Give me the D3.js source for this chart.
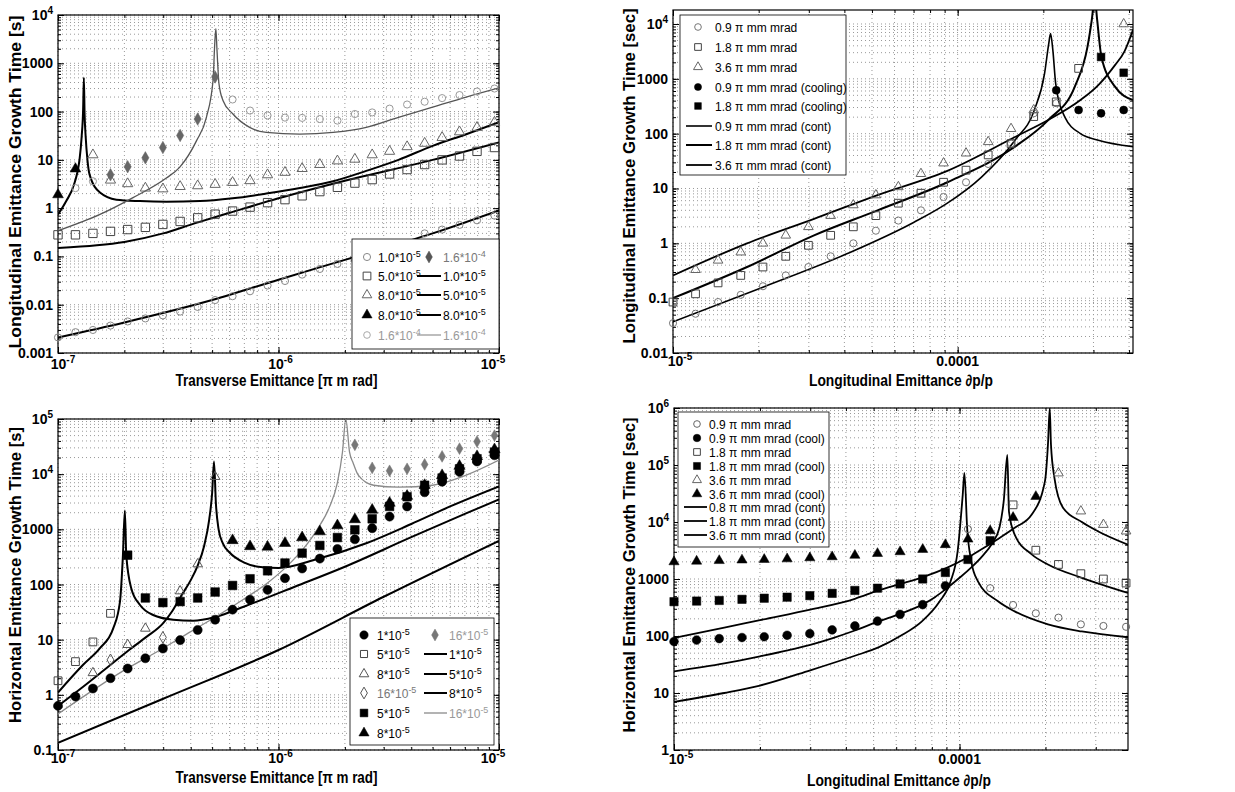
<!DOCTYPE html>
<html>
<head>
<meta charset="utf-8">
<style>
  body { margin: 0; background: #fff; }
  svg { display: block; font-family: "Liberation Sans", Arial, sans-serif; }
</style>
</head>
<body>
<svg></svg>
<script src="https://d3js.org/d3.v7.min.js"></script>
<script>
const _ = null;

// marker positions (emittance values)
const xTrans = [1.0e-7, 1.2e-7, 1.44e-7, 1.73e-7, 2.07e-7, 2.49e-7, 2.99e-7, 3.58e-7, 4.30e-7, 5.16e-7, 6.19e-7, 7.43e-7, 8.92e-7,
                1.07e-6, 1.28e-6, 1.54e-6, 1.85e-6, 2.22e-6, 2.66e-6, 3.19e-6, 3.83e-6, 4.60e-6, 5.52e-6, 6.62e-6, 7.95e-6, 9.54e-6];
const xLong = [1.0e-5, 1.2e-5, 1.44e-5, 1.73e-5, 2.07e-5, 2.49e-5, 2.99e-5, 3.58e-5, 4.30e-5, 5.16e-5, 6.19e-5, 7.43e-5, 8.92e-5,
               1.07e-4, 1.28e-4, 1.54e-4, 1.85e-4, 2.22e-4, 2.66e-4, 3.19e-4, 3.83e-4];

// ---- panel 1 (top left): longitudinal growth time vs transverse emittance
const p1Open10  = [0.0021,0.0027,0.003,0.0037,0.0045,0.0052,0.006,0.0072,0.009,0.0125,0.015,0.019,0.025,0.031,0.042,0.055,0.07,0.085,0.11,0.14,0.19,0.3,0.36,0.45,0.56,0.7];
const p1Open50  = [0.28,0.28,0.30,0.33,0.36,0.40,0.46,0.53,0.63,0.75,0.87,1.05,1.3,1.5,1.8,2.2,2.7,3.3,3.9,5.1,6.3,8,10,12,15,18];
const p1Open80  = [_,_,12.7,3.8,3.2,2.6,2.5,2.8,2.9,3.1,3.4,3.7,4.9,5.5,6.6,8,9.5,10.3,12.7,15,18.7,22,29,38,47,60];
const p1Fill80  = [1.9,6.5,_,_,_,_,_,_,_,_,_,_,_,_,_,_,_,_,_,_,_,_,_,_,_,_];
const p1Dia160  = [_,_,_,4.9,7.2,11,18,32,70,520,_,_,_,_,_,_,_,_,_,_,_,_,_,_,_,_];
const p1Light160 = [_,2.6,3.6,_,_,_,_,_,_,_,178,105,83,75,74,70,65,89,96,115,140,160,190,220,260,300];
const p1Line10 = [[1e-7,0.0021],[2e-7,0.0043],[5e-7,0.0125],[1e-6,0.033],[2e-6,0.085],[5e-6,0.3],[1e-5,0.9]];
const p1Line50 = [[1e-7,0.15],[1.5e-7,0.17],[2e-7,0.2],[3e-7,0.3],[4.2e-7,0.49],[6e-7,0.8],[1e-6,1.6],[2e-6,3.7],[5e-6,10],[1e-5,23]];
const p1Line80 = [[1e-7,0.74],[1.09e-7,1.4],[1.19e-7,3.4],[1.25e-7,9.5],[1.28e-7,30],[1.3e-7,110],[1.31e-7,500],[1.32e-7,90],
                  [1.335e-7,30],[1.36e-7,10],[1.39e-7,5],[1.55e-7,2.1],[1.84e-7,1.5],[2.35e-7,1.4],[3.1e-7,1.36],[4.4e-7,1.4],
                  [6.2e-7,1.6],[8.8e-7,2.0],[1.25e-6,2.6],[1.77e-6,3.6],[2.5e-6,5.9],[3.5e-6,10],[5e-6,19.5],[7.1e-6,34],[1e-5,60]];
const p1Line160 = [[1e-7,0.34],[1.55e-7,0.74],[2.19e-7,1.65],[3.1e-7,4.2],[3.56e-7,7],[4.25e-7,25],[4.71e-7,76],[5.05e-7,450],
                   [5.14e-7,2600],[5.2e-7,5200],[5.26e-7,1900],[5.37e-7,380],[5.6e-7,170],[6.2e-7,90],[7.4e-7,47],[8.8e-7,37],
                   [1.25e-6,34],[1.77e-6,37],[2.5e-6,47],[3.5e-6,76],[5e-6,123],[7.1e-6,200],[1e-5,310]];

// ---- panel 2 (top right): longitudinal growth time vs dp/p
const p2Open09 = [0.035,0.052,0.085,0.115,0.165,0.26,0.37,0.58,1.0,1.7,2.6,4.0,7,13,28,66,235,360,_,_,_];
const p2Open18 = [0.085,0.12,0.19,0.26,0.37,0.58,0.92,1.4,2.0,3.2,5.4,8.2,13,21.6,41,66,205,380,1550,_,_];
const p2Open36 = [_,0.33,0.49,0.69,1.0,1.4,2.0,3.2,5.0,7.6,10.7,18.6,29,44,71,123,270,_,_,_,1.0e4];
const p2Fill09 = [_,_,_,_,_,_,_,_,_,_,_,_,_,_,_,_,_,620,270,235,270];
const p2Fill18 = [_,_,_,_,_,_,_,_,_,_,_,_,_,_,_,_,_,_,_,2500,1290];
const p2Line09 = [[1e-5,0.037],[2.08e-5,0.16],[4.1e-5,0.65],[7.0e-5,2.4],[9.2e-5,5.4],[1.21e-4,16],[1.59e-4,76],[1.86e-4,270],
                  [2.02e-4,1260],[2.09e-4,4450],[2.12e-4,6700],[2.16e-4,3300],[2.21e-4,820],[2.38e-4,200],[2.7e-4,100],[3.12e-4,76],[4.13e-4,58]];
const p2Line18 = [[1e-5,0.1],[1.82e-5,0.37],[3.13e-5,1.4],[5.23e-5,4],[9.2e-5,13],[1.59e-4,58],[2.08e-4,177],[2.58e-4,720],
                  [2.86e-4,3900],[2.96e-4,1.2e4],[3.03e-4,3e4],[3.09e-4,1.2e4],[3.2e-4,2500],[3.57e-4,720],[4.13e-4,410]];
const p2Line36 = [[1e-5,0.26],[1.82e-5,1.0],[3.13e-5,2.8],[5.23e-5,7.6],[9.2e-5,21],[1.59e-4,87],[2.08e-4,177],[2.7e-4,410],
                  [3.12e-4,770],[3.57e-4,1780],[3.86e-4,3200],[4.13e-4,7800]];

// ---- panel 3 (bottom left): horizontal growth time vs transverse emittance
const p3Fill10  = [0.63,0.93,1.3,2.0,3.0,4.6,6.9,9.8,15,23,35,53,80,130,195,295,440,660,1050,1700,2600,4700,7300,1.1e4,1.7e4,2.2e4];
const p3Open50  = [1.8,4.0,9.1,30,_,_,_,_,_,_,_,_,_,_,_,_,_,_,_,_,_,_,_,_,_,_];
const p3Open80  = [_,_,2.5,_,8.1,16,_,76,235,9000,_,_,_,_,_,_,_,_,_,_,_,_,_,_,_,_];
const p3Open160 = [_,_,_,4.3,_,_,11,_,_,_,_,_,_,_,_,_,_,_,_,_,_,_,_,_,_,_];
const p3Fill50  = [_,_,_,_,340,57,47,49,57,73,96,127,177,245,370,510,710,980,1550,2600,3900,6300,8500,1.25e4,1.9e4,2.5e4];
const p3Fill80  = [_,_,_,_,_,_,_,_,_,_,630,490,480,560,710,910,1170,1510,2240,3000,4000,6300,9500,1.4e4,2.1e4,2.8e4];
const p3Fill160 = [_,_,_,_,_,_,_,_,_,_,_,_,_,_,_,_,_,3.4e4,1.3e4,1.15e4,1.25e4,1.5e4,2.1e4,2.9e4,3.9e4,5e4];
const p3Line10 = [[1e-7,0.135],[3e-7,0.85],[1e-6,6.5],[3e-6,60],[1e-5,620]];
const p3Line50 = [[1e-7,1.1],[1.3e-7,3.5],[1.55e-7,7],[1.78e-7,16],[1.91e-7,49],[1.97e-7,340],[2.01e-7,2200],[2.04e-7,340],
                  [2.15e-7,85],[2.35e-7,43],[2.7e-7,28],[3.33e-7,23],[4.1e-7,22],[5.2e-7,26],[7e-7,40],[1.2e-6,93],
                  [2e-6,210],[4e-6,720],[7e-6,1900],[1e-5,3500]];
const p3Line80 = [[1e-7,0.63],[1.3e-7,1.4],[1.7e-7,3.3],[2.1e-7,6.5],[2.5e-7,11],[3e-7,20],[3.3e-7,33],[3.6e-7,60],[4e-7,120],
                  [4.3e-7,220],[4.6e-7,500],[4.85e-7,1500],[5.0e-7,4500],[5.1e-7,1.7e4],[5.2e-7,3000],[5.35e-7,1000],[5.6e-7,550],
                  [6e-7,380],[7e-7,250],[8.5e-7,205],[1e-6,200],[1.5e-6,290],[2.5e-6,560],[4e-6,1250],[6e-6,2600],[1e-5,6000]];
const p3Line160 = [[1e-7,0.45],[2e-7,2.8],[3e-7,7],[4e-7,14],[5.2e-7,26],[7e-7,55],[9e-7,110],[1.1e-6,220],[1.3e-6,450],
                   [1.5e-6,1000],[1.7e-6,2500],[1.85e-6,7000],[1.95e-6,2.5e4],[2.02e-6,1e5],[2.1e-6,2.5e4],[2.18e-6,1.6e4],
                   [2.3e-6,9600],[2.7e-6,6300],[3.5e-6,5800],[5e-6,6300],[7.1e-6,9600],[1e-5,1.8e4]];

// ---- panel 4 (bottom right): horizontal growth time vs dp/p
const p4Open09 = [_,_,_,_,_,_,_,_,_,_,_,_,_,7500,690,350,250,210,160,150,145];
const p4Fill09 = [80,85,90,94,97,103,110,128,150,183,240,355,760,_,_,_,_,_,_,_,_];
const p4Open18 = [_,_,_,_,_,_,_,_,_,_,_,_,_,_,_,2.0e4,3200,1800,1240,1000,850];
const p4Fill18 = [400,410,420,440,460,480,510,560,630,690,820,1000,1300,2200,4700,_,_,_,_,_,_];
const p4Open36 = [_,_,_,_,_,_,_,_,_,_,_,_,_,_,_,_,_,7.2e4,1.55e4,9000,6900];
const p4Fill36 = [2000,2050,2100,2150,2200,2250,2350,2450,2600,2800,3000,3300,4000,5000,7000,1.2e4,2.8e4,_,_,_,_];
const p4Line08 = [[1e-5,7],[1.5e-5,10],[2e-5,13.5],[3e-5,25],[4.3e-5,45],[5.2e-5,63],[6.2e-5,100],[7.4e-5,183],[8.5e-5,400],
                  [9.3e-5,900],[9.85e-5,3100],[1.026e-4,3e4],[1.04e-4,7.3e4],[1.063e-4,8000],[1.1e-4,2000],[1.16e-4,910],
                  [1.36e-4,410],[1.56e-4,270],[2.04e-4,160],[2.68e-4,120],[3.89e-4,95]];
const p4Line18 = [[1e-5,24],[1.5e-5,33],[2e-5,44],[2.5e-5,56],[3e-5,70],[3.6e-5,92],[4.3e-5,125],[5.2e-5,180],[6.2e-5,245],
                  [7.4e-5,355],[8.2e-5,480],[9e-5,680],[1e-4,1050],[1.1e-4,1600],[1.2e-4,2500],[1.3e-4,4200],[1.38e-4,8000],
                  [1.43e-4,2.5e4],[1.47e-4,1.5e5],[1.49e-4,1.5e4],[1.56e-4,6000],[1.79e-4,2700],[2.04e-4,1800],[2.68e-4,1050],[3.89e-4,570]];
const p4Line36 = [[1e-5,92],[1.5e-5,140],[2e-5,190],[3e-5,290],[4.3e-5,450],[5.2e-5,630],[6.2e-5,820],[7.4e-5,1070],[9.1e-5,1600],
                  [1.07e-4,2400],[1.19e-4,3300],[1.36e-4,5000],[1.56e-4,7900],[1.79e-4,1.35e4],[1.99e-4,5.1e4],[2.04e-4,2.3e5],
                  [2.07e-4,1e6],[2.09e-4,2.3e5],[2.15e-4,5.9e4],[2.3e-4,1.8e4],[2.68e-4,1e4],[3.05e-4,6900],[3.89e-4,4000]];

// tick labels
const transXTicks = [1e-7, 1e-6, 1e-5];
const transXLabels = ["10^-7", "10^-6", "10^-5"];
const longXTicks = [1e-5, 1e-4];
const longXLabels = ["10^-5", "0.0001"];
const p1YTicks = [1e-3, 1e-2, 0.1, 1, 10, 100, 1000, 1e4];
const p1YLabels = ["0.001", "0.01", "0.1", "1", "10", "100", "1000", "10^4"];
const p2YTicks = [1e-2, 0.1, 1, 10, 100, 1000, 1e4];
const p2YLabels = ["0.01", "0.1", "1", "10", "100", "1000", "10^4"];
const p3YTicks = [0.1, 1, 10, 100, 1000, 1e4, 1e5];
const p3YLabels = ["0.1", "1", "10", "100", "1000", "10^4", "10^5"];
const p4YTicks = [1, 10, 100, 1000, 1e4, 1e5, 1e6];
const p4YLabels = ["1", "10", "100", "1000", "10^4", "10^5", "10^6"];

const svg = d3.select('svg').attr('width', 1235).attr('height', 792);
const symMap = {circle: d3.symbolCircle, square: d3.symbolSquare, triangle: d3.symbolTriangle, diamond: d3.symbolDiamond};

// "10^-5" -> 10 with superscript
function rich(t, str, supSize, dy) {
  const parts = str.split('^');
  t.append('tspan').text(parts[0]);
  if (parts.length > 1) t.append('tspan').attr('dy', dy).attr('font-size', supSize).text(parts[1]);
}

function drawSymbol(g, cx, cy, m) {
  g.append('path')
    .attr('transform', `translate(${cx},${cy})`)
    .attr('d', d3.symbol().type(symMap[m.sym]).size(m.size))
    .attr('fill', m.fill ? m.color : 'none')
    .attr('stroke', m.color)
    .attr('stroke-width', m.fill ? 0.5 : 1);
}

function drawPanel(p) {
  const x = d3.scaleLog().domain(p.xDomain).range([p.left, p.right]);
  const y = d3.scaleLog().domain(p.yDomain).range([p.bottom, p.top]);
  const g = svg.append('g');
  const clipId = 'clip' + p.id;
  g.append('clipPath').attr('id', clipId).append('rect')
    .attr('x', p.left).attr('y', p.top).attr('width', p.right - p.left).attr('height', p.bottom - p.top);

  // dotted grid at every decade subdivision
  g.append('g').selectAll('line').data(x.ticks()).join('line')
    .attr('x1', d => x(d)).attr('x2', d => x(d)).attr('y1', p.top).attr('y2', p.bottom)
    .attr('stroke', '#999').attr('stroke-dasharray', '1,3');
  g.append('g').selectAll('line').data(y.ticks()).join('line')
    .attr('y1', d => y(d)).attr('y2', d => y(d)).attr('x1', p.left).attr('x2', p.right)
    .attr('stroke', '#999').attr('stroke-dasharray', '1,3');

  // inward ticks on all four sides
  const sides = [[d3.axisBottom, x, `translate(0,${p.bottom})`, p.xTicks],
                 [d3.axisTop, x, `translate(0,${p.top})`, p.xTicks],
                 [d3.axisLeft, y, `translate(${p.left},0)`, p.yTicks],
                 [d3.axisRight, y, `translate(${p.right},0)`, p.yTicks]];
  sides.forEach(([ax, sc, tr, major]) => {
    [[sc.ticks(), -3], [major, -6]].forEach(([vals, size]) => {
      g.append('g').attr('transform', tr)
        .call(ax(sc).tickValues(vals).tickSize(size).tickFormat(() => ''))
        .call(s => s.select('.domain').remove())
        .selectAll('line').attr('stroke', '#000');
    });
  });

  g.append('rect').attr('x', p.left).attr('y', p.top)
    .attr('width', p.right - p.left).attr('height', p.bottom - p.top)
    .attr('fill', 'none').attr('stroke', '#000').attr('stroke-width', 1.2);

  const lineGen = d3.line().x(d => x(d[0])).y(d => y(d[1])).curve(d3.curveMonotoneX);
  p.lines.forEach(l => {
    g.append('path').datum(l.data).attr('d', lineGen)
      .attr('fill', 'none').attr('stroke', l.color).attr('stroke-width', l.width)
      .attr('clip-path', `url(#${clipId})`);
  });

  p.markers.forEach(m => {
    p.xs.forEach((xv, i) => {
      if (m.values[i] != null) drawSymbol(g, x(xv), y(m.values[i]), m);
    });
  });

  // tick labels
  p.yTicks.forEach((v, i) => {
    const t = g.append('text').attr('x', p.left - 5).attr('y', y(v) + 5)
      .attr('text-anchor', 'end').attr('font-size', 14).attr('font-weight', 'bold');
    rich(t, p.yLabels[i], 10, -6);
  });
  p.xTicks.forEach((v, i) => {
    const t = g.append('text').attr('x', x(v) + p.xShift[i]).attr('y', p.xLabelY)
      .attr('text-anchor', 'middle').attr('font-size', 14).attr('font-weight', 'bold');
    rich(t, p.xLabels[i], 10, -6);
  });

  // axis titles
  g.append('text').attr('x', (p.left + p.right) / 2 - 2).attr('y', p.xTitleY)
    .attr('text-anchor', 'middle').attr('font-size', 16).attr('font-weight', 'bold')
    .attr('textLength', p.xTitleLen).attr('lengthAdjust', 'spacingAndGlyphs').text(p.xTitle);
  g.append('text').attr('transform', `translate(${p.yTitleX},${p.yTitleY}) rotate(-90)`)
    .attr('text-anchor', 'middle').attr('dominant-baseline', 'central')
    .attr('font-size', 17).attr('font-weight', 'bold')
    .attr('textLength', p.yTitleLen).attr('lengthAdjust', 'spacingAndGlyphs').text(p.yTitle);

  // legend
  const L = p.legend;
  g.append('rect').attr('x', L.box[0]).attr('y', L.box[1]).attr('width', L.box[2]).attr('height', L.box[3])
    .attr('fill', '#fff').attr('stroke', '#000').attr('stroke-width', 0.8);
  L.items.forEach(it => {
    const cy = L.rows[it.row], c = L.cols[it.col];
    if (it.line) g.append('line').attr('x1', c.l1).attr('x2', c.l2).attr('y1', cy).attr('y2', cy)
      .attr('stroke', it.color).attr('stroke-width', it.width);
    if (it.sym) drawSymbol(g, c.m, cy, it);
    const t = g.append('text').attr('x', c.t).attr('y', cy + 4.5)
      .attr('font-size', L.fs).attr('fill', it.textColor || '#000');
    rich(t, it.label, L.fs - 3, -5);
  });
}

const black = '#000', gray = '#8a8a8a', openC = '#444';

drawPanel({
  id: 1, left: 58, right: 499, top: 15, bottom: 353,
  xDomain: [1e-7, 1e-5], yDomain: [1e-3, 1e4], xs: xTrans,
  xTicks: transXTicks, xLabels: transXLabels, xShift: [5, 2, -6], xLabelY: 369,
  yTicks: p1YTicks, yLabels: p1YLabels,
  xTitle: 'Transverse Emittance [π m rad]', xTitleY: 386, xTitleLen: 202,
  yTitle: 'Longitudinal Emittance Growth Time [s]', yTitleX: 15, yTitleY: 182, yTitleLen: 333,
  lines: [
    {data: p1Line10, color: black, width: 2},
    {data: p1Line50, color: black, width: 2},
    {data: p1Line80, color: black, width: 2},
    {data: p1Line160, color: '#555', width: 1.3}
  ],
  markers: [
    {values: p1Open10, sym: 'circle', fill: false, color: '#888', size: 40},
    {values: p1Open50, sym: 'square', fill: false, color: openC, size: 70},
    {values: p1Open80, sym: 'triangle', fill: false, color: '#666', size: 45},
    {values: p1Fill80, sym: 'triangle', fill: true, color: black, size: 50},
    {values: p1Light160, sym: 'circle', fill: false, color: '#999', size: 40},
    {values: p1Dia160, sym: 'diamond', fill: true, color: '#666', size: 45}
  ],
  legend: {
    box: [352, 239, 147, 110], rows: [257, 276, 295, 315, 335], fs: 12,
    cols: [{m: 367, l1: 360, l2: 374, t: 378}, {m: 429, l1: 417, l2: 441, t: 443}],
    items: [
      {col: 0, row: 0, sym: 'circle', fill: false, color: '#888', size: 40, label: '1.0*10^-5'},
      {col: 0, row: 1, sym: 'square', fill: false, color: openC, size: 60, label: '5.0*10^-5'},
      {col: 0, row: 2, sym: 'triangle', fill: false, color: '#666', size: 40, label: '8.0*10^-5'},
      {col: 0, row: 3, sym: 'triangle', fill: true, color: black, size: 45, label: '8.0*10^-5'},
      {col: 0, row: 4, sym: 'circle', fill: false, color: '#aaa', size: 35, label: '1.6*10^-4', textColor: '#999'},
      {col: 1, row: 0, sym: 'diamond', fill: true, color: '#555', size: 40, label: '1.6*10^-4', textColor: '#777'},
      {col: 1, row: 1, line: true, color: black, width: 2, label: '1.0*10^-5'},
      {col: 1, row: 2, line: true, color: black, width: 2, label: '5.0*10^-5'},
      {col: 1, row: 3, line: true, color: black, width: 2, label: '8.0*10^-5'},
      {col: 1, row: 4, line: true, color: '#999', width: 1.3, label: '1.6*10^-4', textColor: '#999'}
    ]
  }
});

drawPanel({
  id: 2, left: 673, right: 1133, top: 10, bottom: 353,
  xDomain: [1e-5, 4.13e-4], yDomain: [0.01, 1.8e4], xs: xLong,
  xTicks: longXTicks, xLabels: longXLabels, xShift: [7, 0], xLabelY: 366,
  yTicks: p2YTicks, yLabels: p2YLabels,
  xTitle: 'Longitudinal Emittance ∂p/p', xTitleY: 386, xTitleLen: 184,
  yTitle: 'Longitudinal Emittance Growth Time [sec]', yTitleX: 629, yTitleY: 176, yTitleLen: 335,
  lines: [
    {data: p2Line09, color: black, width: 1.6},
    {data: p2Line18, color: black, width: 2},
    {data: p2Line36, color: black, width: 1.8}
  ],
  markers: [
    {values: p2Open09, sym: 'circle', fill: false, color: '#777', size: 40},
    {values: p2Open18, sym: 'square', fill: false, color: openC, size: 60},
    {values: p2Open36, sym: 'triangle', fill: false, color: '#666', size: 40},
    {values: p2Fill09, sym: 'circle', fill: true, color: black, size: 50},
    {values: p2Fill18, sym: 'square', fill: true, color: black, size: 60}
  ],
  legend: {
    box: [680, 15, 166, 160], rows: [27, 47, 67, 87, 106, 126, 145, 165], fs: 12,
    cols: [{m: 698, l1: 686, l2: 712, t: 715}],
    items: [
      {col: 0, row: 0, sym: 'circle', fill: false, color: '#777', size: 35, label: '0.9 π mm mrad'},
      {col: 0, row: 1, sym: 'square', fill: false, color: openC, size: 45, label: '1.8 π mm mrad'},
      {col: 0, row: 2, sym: 'triangle', fill: false, color: '#666', size: 35, label: '3.6 π mm mrad'},
      {col: 0, row: 3, sym: 'circle', fill: true, color: black, size: 40, label: '0.9 π mm mrad (cooling)'},
      {col: 0, row: 4, sym: 'square', fill: true, color: black, size: 45, label: '1.8 π mm mrad (cooling)'},
      {col: 0, row: 5, line: true, color: black, width: 1.6, label: '0.9 π mm mrad (cont)'},
      {col: 0, row: 6, line: true, color: black, width: 2, label: '1.8 π mm mrad (cont)'},
      {col: 0, row: 7, line: true, color: black, width: 1.8, label: '3.6 π mm mrad (cont)'}
    ]
  }
});

drawPanel({
  id: 3, left: 58, right: 499, top: 419, bottom: 750,
  xDomain: [1e-7, 1e-5], yDomain: [0.1, 1e5], xs: xTrans,
  xTicks: transXTicks, xLabels: transXLabels, xShift: [5, 2, -6], xLabelY: 763,
  yTicks: p3YTicks, yLabels: p3YLabels,
  xTitle: 'Transverse Emittance [π m rad]', xTitleY: 783, xTitleLen: 202,
  yTitle: 'Horizontal Emittance Growth Time [s]', yTitleX: 15, yTitleY: 575, yTitleLen: 296,
  lines: [
    {data: p3Line10, color: black, width: 2},
    {data: p3Line50, color: black, width: 2},
    {data: p3Line80, color: black, width: 2},
    {data: p3Line160, color: gray, width: 1.3}
  ],
  markers: [
    {values: p3Open50, sym: 'square', fill: false, color: openC, size: 60},
    {values: p3Open80, sym: 'triangle', fill: false, color: '#555', size: 40},
    {values: p3Open160, sym: 'diamond', fill: false, color: '#555', size: 40},
    {values: p3Fill160, sym: 'diamond', fill: true, color: '#777', size: 40},
    {values: p3Fill80, sym: 'triangle', fill: true, color: black, size: 55},
    {values: p3Fill50, sym: 'square', fill: true, color: black, size: 75},
    {values: p3Fill10, sym: 'circle', fill: true, color: black, size: 65}
  ],
  legend: {
    box: [350, 618, 144, 127], rows: [635, 654, 674, 693, 713, 733], fs: 12,
    cols: [{m: 364, l1: 356, l2: 372, t: 377}, {m: 435, l1: 424, l2: 447, t: 449}],
    items: [
      {col: 0, row: 0, sym: 'circle', fill: true, color: black, size: 55, label: '1*10^-5'},
      {col: 0, row: 1, sym: 'square', fill: false, color: openC, size: 50, label: '5*10^-5'},
      {col: 0, row: 2, sym: 'triangle', fill: false, color: '#555', size: 40, label: '8*10^-5'},
      {col: 0, row: 3, sym: 'diamond', fill: false, color: '#555', size: 40, label: '16*10^-5', textColor: '#777'},
      {col: 0, row: 4, sym: 'square', fill: true, color: black, size: 60, label: '5*10^-5'},
      {col: 0, row: 5, sym: 'triangle', fill: true, color: black, size: 45, label: '8*10^-5'},
      {col: 1, row: 0, sym: 'diamond', fill: true, color: '#777', size: 40, label: '16*10^-5', textColor: '#999'},
      {col: 1, row: 1, line: true, color: black, width: 2, label: '1*10^-5'},
      {col: 1, row: 2, line: true, color: black, width: 2, label: '5*10^-5'},
      {col: 1, row: 3, line: true, color: black, width: 2, label: '8*10^-5'},
      {col: 1, row: 4, line: true, color: gray, width: 1.3, label: '16*10^-5', textColor: '#999'}
    ]
  }
});

drawPanel({
  id: 4, left: 674, right: 1128, top: 408, bottom: 750,
  xDomain: [1e-5, 3.89e-4], yDomain: [1, 1e6], xs: xLong,
  xTicks: longXTicks, xLabels: longXLabels, xShift: [7, 0], xLabelY: 764,
  yTicks: p4YTicks, yLabels: p4YLabels,
  xTitle: 'Longitudinal Emittance ∂p/p', xTitleY: 786, xTitleLen: 184,
  yTitle: 'Horizontal Emittance Growth Time [sec]', yTitleX: 629, yTitleY: 575, yTitleLen: 315,
  lines: [
    {data: p4Line08, color: black, width: 1.8},
    {data: p4Line18, color: black, width: 1.8},
    {data: p4Line36, color: black, width: 1.8}
  ],
  markers: [
    {values: p4Open09, sym: 'circle', fill: false, color: '#666', size: 40},
    {values: p4Open18, sym: 'square', fill: false, color: openC, size: 60},
    {values: p4Open36, sym: 'triangle', fill: false, color: '#666', size: 40},
    {values: p4Fill09, sym: 'circle', fill: true, color: black, size: 60},
    {values: p4Fill18, sym: 'square', fill: true, color: black, size: 70},
    {values: p4Fill36, sym: 'triangle', fill: true, color: black, size: 45}
  ],
  legend: {
    box: [678, 412, 151, 135], rows: [424, 438, 452, 466, 480, 494, 507, 521, 535], fs: 12,
    cols: [{m: 697, l1: 684, l2: 707, t: 709}],
    items: [
      {col: 0, row: 0, sym: 'circle', fill: false, color: '#666', size: 35, label: '0.9 π mm mrad'},
      {col: 0, row: 1, sym: 'circle', fill: true, color: black, size: 45, label: '0.9 π mm mrad (cool)'},
      {col: 0, row: 2, sym: 'square', fill: false, color: openC, size: 45, label: '1.8 π mm mrad'},
      {col: 0, row: 3, sym: 'square', fill: true, color: black, size: 50, label: '1.8 π mm mrad  (cool)'},
      {col: 0, row: 4, sym: 'triangle', fill: false, color: '#666', size: 35, label: '3.6 π mm mrad'},
      {col: 0, row: 5, sym: 'triangle', fill: true, color: black, size: 40, label: '3.6 π mm mrad  (cool)'},
      {col: 0, row: 6, line: true, color: black, width: 1.8, label: '0.8 π mm mrad (cont)'},
      {col: 0, row: 7, line: true, color: black, width: 1.8, label: '1.8 π mm mrad (cont)'},
      {col: 0, row: 8, line: true, color: black, width: 1.8, label: '3.6 π mm mrad (cont)'}
    ]
  }
});
</script>
</body>
</html>
